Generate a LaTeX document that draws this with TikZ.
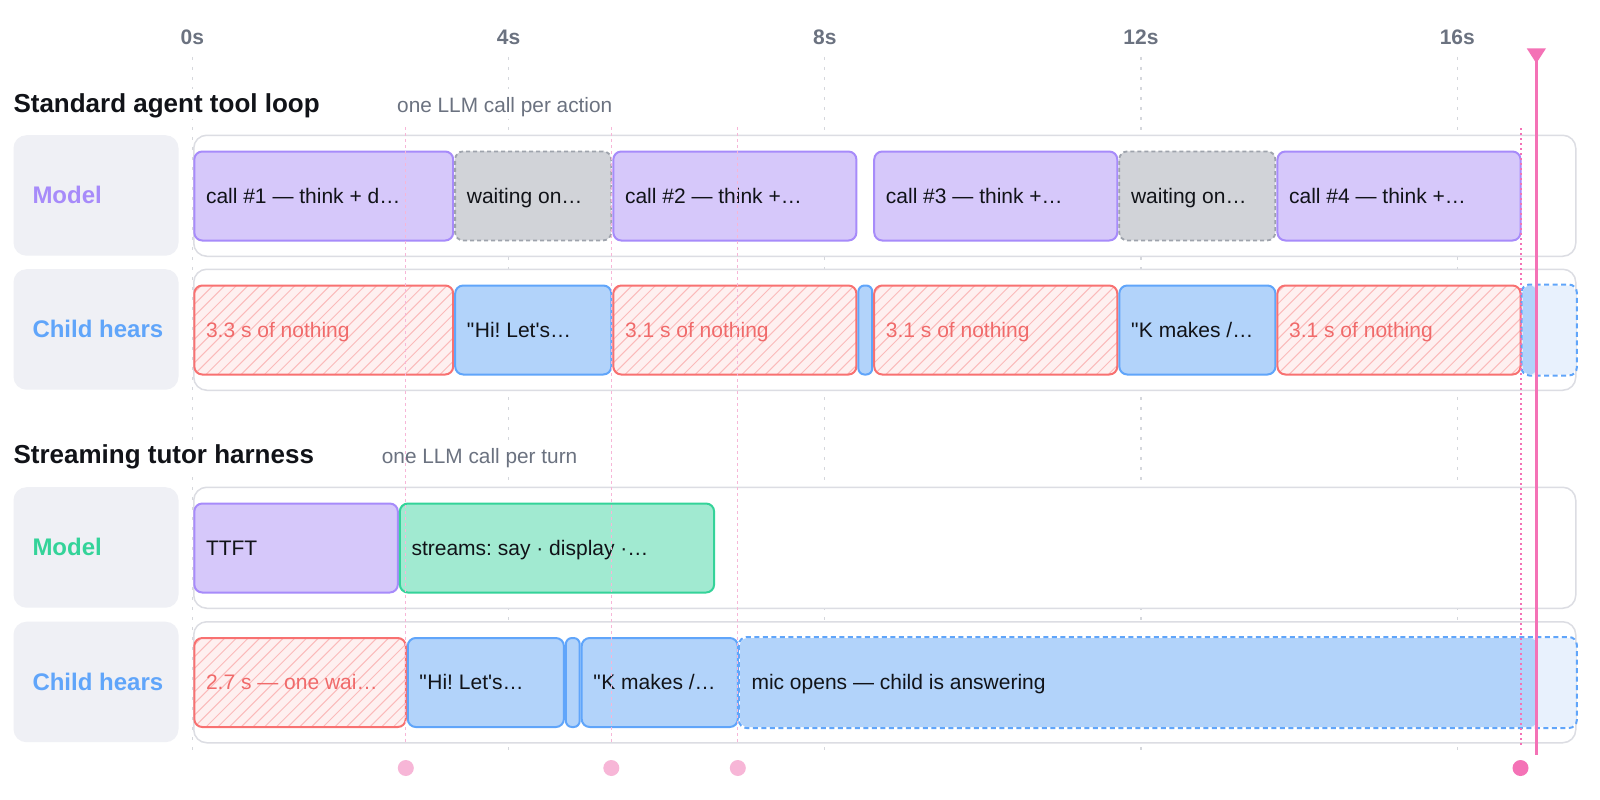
\documentclass[tikz,border=0pt]{standalone}
\usepackage{fontspec}
\setmainfont{Liberation Sans}
\definecolor{ink}{HTML}{111318}
\definecolor{axisgray}{HTML}{6B7280}
\definecolor{gridgray}{HTML}{D5D7DC}
\definecolor{laneborder}{HTML}{DCDDE3}
\definecolor{labelbg}{HTML}{EFF0F5}
\definecolor{purplefill}{HTML}{D6C8FA}
\definecolor{purpleline}{HTML}{A78BFA}
\definecolor{grayfill}{HTML}{D1D3D8}
\definecolor{grayline}{HTML}{9EA3AC}
\definecolor{bluefill}{HTML}{B2D3FA}
\definecolor{blueline}{HTML}{60A5FA}
\definecolor{bluepale}{HTML}{E8F1FD}
\definecolor{greenfill}{HTML}{A1EAD1}
\definecolor{greenline}{HTML}{34D399}
\definecolor{redfill}{HTML}{FEF0F0}
\definecolor{redhatch}{HTML}{FBBABA}
\definecolor{redline}{HTML}{F87171}
\definecolor{redtext}{HTML}{F06A6A}
\definecolor{pinkmain}{HTML}{F472B6}
\definecolor{pinksoft}{HTML}{F7B6D7}
\newcommand{\tlsq}{\XeTeXglyph\XeTeXcharglyph"0027\relax}
\newcommand{\tldq}{\XeTeXglyph\XeTeXcharglyph"0022\relax\kern0.5pt\relax}
\tikzset{
  barbase/.style={rounded corners=8pt, line width=2pt, inner sep=0pt, anchor=north west, minimum height=89pt},
  purplebar/.style={barbase, fill=purplefill, draw=purpleline},
  waitbar/.style={barbase, fill=grayfill, draw=grayline, line width=1.8pt, dash pattern=on 4pt off 3pt},
  bluebar/.style={barbase, fill=bluefill, draw=blueline},
  greenbar/.style={barbase, fill=greenfill, draw=greenline},
  hatchbar/.style={barbase, fill=redfill, draw=redline,
    path picture={\foreach \k in {-10,...,24}{\draw[redhatch, line width=1pt] ([xshift=\k*11.7pt]path picture bounding box.south west) -- ++(120pt,120pt);}}},
  bartxt/.style={anchor=base west, inner sep=0pt, font=\frenchspacing\fontsize{21}{25}\selectfont},
  lanebox/.style={draw=laneborder, line width=1.5pt, fill=white, rounded corners=13pt, inner sep=0pt, anchor=north west, minimum width=1382pt, minimum height=121pt},
  labelbox/.style={fill=labelbg, rounded corners=13pt, inner sep=0pt, anchor=north west, minimum width=165pt, minimum height=120.5pt},
  lanetext/.style={anchor=base west, inner sep=0pt, font=\bfseries\fontsize{24}{28}\selectfont},
  hdrbox/.style={fill=white, inner sep=0pt, anchor=north west, minimum height=30pt},
  hdrtext/.style={anchor=base west, inner sep=0pt, text=ink, font=\bfseries\fontsize{26}{30}\selectfont},
  subtext/.style={anchor=base west, inner sep=0pt, text=axisgray, font=\fontsize{20.8}{24}\selectfont},
  axislbl/.style={anchor=base, inner sep=0pt, text=axisgray, font=\bfseries\fontsize{21}{25}\selectfont},
  gridline/.style={gridgray, line width=1.2pt, dash pattern=on 3pt off 7pt},
  markline/.style={pinksoft, line width=1.2pt, dash pattern=on 3pt off 3pt},
  nowmark/.style={pinkmain, line width=2pt, dash pattern=on 2pt off 3pt},
  softdot/.style={circle, fill=pinksoft, inner sep=0pt, minimum size=16pt},
  nowdot/.style={circle, fill=pinkmain, inner sep=0pt, minimum size=16pt},
}
% bar: name, style, t0, t1, row top
\newcommand{\tlbar}[5]{%
  \pgfmathsetmacro{\tlxa}{192.3+79.06*#3+1}%
  \pgfmathsetmacro{\tlw}{79.06*(#4-#3)-2}%
  \pgfmathsetmacro{\tly}{#5+16.5}%
  \node[#2, minimum width=\tlw pt] (#1) at (\tlxa,\tly) {};%
}
% continuing bar: name, t0, row top
\newcommand{\tlcont}[3]{%
  \pgfmathsetmacro{\tlxa}{192.3+79.06*#2+1}%
  \pgfmathsetmacro{\tlw}{79.06*(17.5-#2)-2}%
  \pgfmathsetmacro{\tlfill}{79.06*(17-#2)-1}%
  \pgfmathsetmacro{\tly}{#3+16.5}%
  \node[barbase, fill=bluepale, minimum width=\tlw pt,
    path picture={\fill[bluefill] (path picture bounding box.south west) rectangle ([xshift=\tlfill pt]path picture bounding box.north west);}] (#1) at (\tlxa,\tly) {};%
  \draw[blueline, line width=2pt, dash pattern=on 5pt off 3.5pt, rounded corners=8pt] (#1.north west) rectangle (#1.south east);%
}
\newcommand{\bartext}[3]{\node[bartxt, text=#2] (#1-t) at ([xshift=12.5pt,yshift=-7.3pt]#1.west) {#3};}
\begin{document}
\begin{tikzpicture}[x=1pt,y=-1pt]
\useasboundingbox (0,0) rectangle (1600,800);
\fill[white] (0,0) rectangle (1600,800);

% axis
\node[axislbl] (ax0) at (192.3,44.3) {0s};
\node[axislbl] (ax4) at (508.5,44.3) {4s};
\node[axislbl] (ax8) at (824.8,44.3) {8s};
\node[axislbl] (ax12) at (1141,44.3) {12s};
\node[axislbl] (ax16) at (1457.3,44.3) {16s};
\foreach \gx in {192.3,508.5,824.8,1141,1457.3}{\draw[gridline] (\gx,57) -- (\gx,752);}

% section headers
\node[hdrbox, minimum width=668pt] (hdr1box) at (0,89) {};
\node[hdrtext] (hdr1) at (13.3,112.3) {Standard agent tool loop};
\node[subtext] (sub1) at (397,112.3) {one LLM call per action};
\node[hdrbox, minimum width=632pt] (hdr2box) at (0,441) {};
\node[hdrtext] (hdr2) at (13.3,463.3) {Streaming tutor harness};
\node[subtext] (sub2) at (381.7,463.3) {one LLM call per turn};

% lanes
\node[lanebox] (laneA) at (193,134.5) {};
\node[lanebox] (laneB) at (193,268.5) {};
\node[lanebox] (laneC) at (193,486.5) {};
\node[lanebox] (laneD) at (193,621) {};
\node[labelbox] (lblA) at (13.3,135) {};
\node[labelbox] (lblB) at (13.3,269) {};
\node[labelbox] (lblC) at (13.3,487) {};
\node[labelbox] (lblD) at (13.3,621.5) {};
\node[lanetext, text=purpleline] (lblA-t) at (32.3,203.5) {Model};
\node[lanetext, text=blueline] (lblB-t) at (32.3,337.5) {Child hears};
\node[lanetext, text=greenline] (lblC-t) at (32.3,555.5) {Model};
\node[lanetext, text=blueline] (lblD-t) at (32.3,690) {Child hears};

% row A: standard model
\tlbar{a1}{purplebar}{0}{3.3}{134}
\tlbar{a2}{waitbar}{3.3}{5.3}{134}
\tlbar{a3}{purplebar}{5.3}{8.4}{134}
\tlbar{a4}{purplebar}{8.6}{11.7}{134}
\tlbar{a5}{waitbar}{11.7}{13.7}{134}
\tlbar{a6}{purplebar}{13.7}{16.8}{134}
\bartext{a1}{ink}{call \#1 — think + d…}
\bartext{a2}{ink}{waiting on…}
\bartext{a3}{ink}{call \#2 — think +…}
\bartext{a4}{ink}{call \#3 — think +…}
\bartext{a5}{ink}{waiting on…}
\bartext{a6}{ink}{call \#4 — think +…}

% row B: standard child
\tlbar{b1}{hatchbar}{0}{3.3}{268}
\tlbar{b2}{bluebar}{3.3}{5.3}{268}
\tlbar{b3}{hatchbar}{5.3}{8.4}{268}
\tlbar{b4}{bluebar, rounded corners=6pt}{8.4}{8.6}{268}
\tlbar{b5}{hatchbar}{8.6}{11.7}{268}
\tlbar{b6}{bluebar}{11.7}{13.7}{268}
\tlbar{b7}{hatchbar}{13.7}{16.8}{268}
\tlcont{b8}{16.8}{268}
\bartext{b1}{redtext}{3.3 s of nothing}
\bartext{b2}{ink}{\tldq Hi! Let\tlsq s…}
\bartext{b3}{redtext}{3.1 s of nothing}
\bartext{b5}{redtext}{3.1 s of nothing}
\bartext{b6}{ink}{\tldq K makes /…}
\bartext{b7}{redtext}{3.1 s of nothing}

% row C: streaming model
\tlbar{c1}{purplebar}{0}{2.6}{486}
\tlbar{c2}{greenbar}{2.6}{6.6}{486}
\bartext{c1}{ink}{TTFT}
\bartext{c2}{ink}{streams: say · display ·…}

% row D: streaming child
\tlbar{d1}{hatchbar}{0}{2.7}{620.5}
\tlbar{d2}{bluebar}{2.7}{4.7}{620.5}
\tlbar{d3}{bluebar, rounded corners=6pt}{4.7}{4.9}{620.5}
\tlbar{d4}{bluebar}{4.9}{6.9}{620.5}
\tlcont{d5}{6.9}{620.5}
\bartext{d1}{redtext}{2.7 s — one wai…}
\bartext{d2}{ink}{\tldq Hi! Let\tlsq s…}
\bartext{d4}{ink}{\tldq K makes /…}
\bartext{d5}{ink}{mic opens — child is answering}

% markers
\foreach \mx/\mn in {405.8/m1,611.3/m2,737.8/m3}{
  \draw[markline] (\mx,127) -- (\mx,742);
  \node[softdot] (\mn) at (\mx,768) {};
}
\draw[nowmark] (1520.5,128) -- (1520.5,745);
\node[nowdot] (m4) at (1520.5,768) {};

% now cursor
\coordinate (curtop) at (1536.3,60);
\coordinate (curbot) at (1536.3,755);
\draw[pinkmain, line width=2.5pt] (curtop) -- (curbot);
\fill[pinkmain] (1526.7,48.3) -- (1546,48.3) -- (1536.3,63.3) -- cycle;
\end{tikzpicture}
\end{document}
